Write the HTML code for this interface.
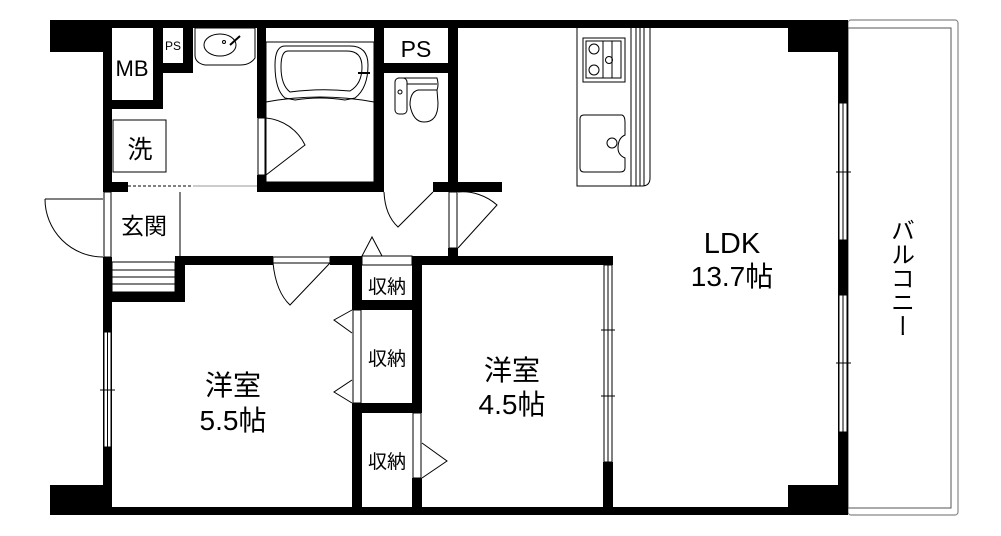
<!DOCTYPE html>
<html><head><meta charset="utf-8"><style>
html,body{margin:0;padding:0;background:#fff;}
svg{display:block}
text{font-family:"Liberation Sans","Noto Sans CJK JP",sans-serif;fill:#000}
</style></head><body>
<svg width="1001" height="536" viewBox="0 0 1001 536" xmlns="http://www.w3.org/2000/svg">
<rect width="1001" height="536" fill="#fff"/>
<rect x="848" y="20" width="110" height="495" rx="3" fill="none" stroke="#888" stroke-width="1.2"/>
<rect x="848" y="28" width="103" height="480" fill="none" stroke="#555" stroke-width="1"/>
<g fill="#000">
<rect x="50" y="20" width="798" height="8"/>
<rect x="50" y="507" width="798" height="8"/>
<rect x="50" y="20" width="53" height="32"/>
<rect x="50" y="485" width="62" height="30"/>
<rect x="788" y="20" width="60" height="32"/>
<rect x="788" y="485" width="60" height="30"/>
<rect x="838" y="20" width="10" height="495"/>
<rect x="103" y="20" width="9" height="172"/>
<rect x="103" y="257" width="9" height="258"/>
<rect x="153" y="28" width="10" height="81"/>
<rect x="103" y="100" width="60" height="9"/>
<rect x="163" y="63" width="30" height="10"/>
<rect x="183" y="28" width="10" height="45"/>
<rect x="103" y="182" width="25" height="10"/>
<rect x="257" y="28" width="9" height="90"/>
<rect x="257" y="175" width="9" height="17"/>
<rect x="257" y="182" width="127" height="10"/>
<rect x="374" y="28" width="10" height="164"/>
<rect x="433" y="182" width="69" height="10"/>
<rect x="448" y="28" width="10" height="164"/>
<rect x="384" y="63" width="64" height="10"/>
<rect x="448" y="248" width="10" height="17"/>
<rect x="175" y="257" width="10" height="45"/>
<rect x="103" y="292" width="82" height="10"/>
<rect x="175" y="256" width="98" height="9"/>
<rect x="330" y="256" width="32" height="9"/>
<rect x="412" y="256" width="201" height="9"/>
<rect x="352" y="256" width="10" height="54"/>
<rect x="352" y="403" width="10" height="112"/>
<rect x="412" y="256" width="10" height="157"/>
<rect x="412" y="478" width="10" height="37"/>
<rect x="352" y="300" width="70" height="10"/>
<rect x="352" y="403" width="70" height="10"/>
<rect x="603" y="256" width="10" height="9"/>
<rect x="603" y="462" width="10" height="53"/>
</g>
<g fill="none" stroke="#000" stroke-width="1">
<rect x="104" y="332" width="7" height="115" fill="#fff"/>
<line x1="107.5" y1="332" x2="107.5" y2="447"/>
<line x1="100" y1="390" x2="115" y2="390"/>
<rect x="839" y="103" width="8" height="137" fill="#fff"/>
<line x1="843" y1="103" x2="843" y2="240"/>
<line x1="836" y1="172" x2="851" y2="172"/>
<rect x="839" y="295" width="8" height="137" fill="#fff"/>
<line x1="843" y1="295" x2="843" y2="432"/>
<line x1="836" y1="363" x2="851" y2="363"/>
<rect x="604" y="265" width="8" height="197" fill="#fff"/>
<line x1="608" y1="265" x2="608" y2="462"/>
<line x1="601" y1="330" x2="615" y2="330"/>
<line x1="601" y1="396" x2="615" y2="396"/>
<!-- entry door -->
<rect x="104" y="192" width="7" height="65"/>
<line x1="45" y1="199" x2="103" y2="199"/>
<path d="M45 199 A58 58 0 0 0 103 257"/>
<line x1="180" y1="192" x2="180" y2="257"/>
<rect x="112" y="262" width="63" height="30"/>
<line x1="112" y1="270" x2="175" y2="270"/>
<line x1="112" y1="277" x2="175" y2="277"/>
<line x1="112" y1="284" x2="175" y2="284"/>
<line x1="128" y1="186" x2="193" y2="186" stroke-dasharray="3,2"/>
<line x1="193" y1="186" x2="257" y2="186" stroke="#999"/>
<rect x="113" y="120" width="53" height="52"/>
<path d="M195 28 L255 28 L255 58 Q250 65 240 65 L205 65 Q195 63 195 55 Z"/>
<ellipse cx="220" cy="45" rx="16" ry="11"/>
<circle cx="224" cy="42" r="1.5"/>
<line x1="230" y1="45" x2="240" y2="36" stroke-width="2"/>
<rect x="266" y="42" width="108" height="140" fill="none"/>
<path d="M285 46 L350 46 Q368 46 368 65 Q368 88 355 98 L345 100 Q320 96 295 100 L285 98 Q275 90 275 65 Q275 46 285 46 Z"/>
<path d="M288 51 L347 51 Q362 51 362 67 Q362 84 350 91 Q320 88 290 92 Q281 85 281 67 Q281 51 288 51 Z"/>
<path d="M266 102 Q320 92 374 102"/>
<line x1="358" y1="73" x2="370" y2="73" stroke-width="2"/>
<rect x="258" y="118" width="7" height="57"/>
<path d="M266 175 L305 145 A48 48 0 0 0 266 118"/>
<path d="M398 78 L437 78 Q439 85 437 90 L418 90 Q410 92 410 105 Q413 122 424 122 Q438 122 438 103 L437 90"/>
<rect x="395" y="78" width="12" height="36" rx="4"/>
<path d="M407 84 L437 84"/>
<circle cx="400" cy="92" r="2"/>
<path d="M384 192 Q385 215 398 227 L433 192"/>
<rect x="449" y="192" width="8" height="56"/>
<path d="M458 248 L497 205 A52 52 0 0 0 458 192"/>
<path d="M362 256 L372 237 L382 256"/>
<rect x="362" y="256" width="50" height="9"/>
<rect x="273" y="257" width="57" height="6"/>
<path d="M273 263 Q276 292 290 305 L330 263"/>
<rect x="353" y="310" width="8" height="93" fill="#fff"/>
<path d="M352 310 L334 320 L352 333"/>
<path d="M352 380 L334 392 L352 403"/>
<rect x="413" y="413" width="8" height="65" fill="#fff"/>
<path d="M422 443 L447 461 L422 478"/>
<path d="M577 28 L577 186 L642 186 Q650 186 650 178 L650 28"/>
<line x1="631" y1="28" x2="631" y2="186"/>
<line x1="636" y1="28" x2="636" y2="186"/>
<line x1="640" y1="28" x2="640" y2="186"/>
<line x1="644" y1="28" x2="644" y2="186"/>
<rect x="583" y="38" width="42" height="44"/>
<rect x="586" y="41" width="35" height="37"/>
<circle cx="594" cy="49" r="5"/>
<circle cx="594" cy="70" r="5"/>
<circle cx="609" cy="60" r="3.5"/>
<line x1="603" y1="41" x2="603" y2="78"/>
<line x1="612" y1="41" x2="612" y2="78"/>
<path d="M584 115 L622 115 Q625 116 625 122 L625 135 Q618 138 618 148 Q618 155 625 158 L625 168 Q625 172 620 172 L584 172 Q580 172 580 168 L580 119 Q580 115 584 115 Z"/>
<circle cx="612" cy="143" r="5"/>
</g>
<text x="132" y="76" font-size="22" text-anchor="middle">MB</text>
<text x="173" y="50" font-size="12" text-anchor="middle">PS</text>
<text x="416" y="57" font-size="23" text-anchor="middle">PS</text>
<text x="140" y="158" font-size="25" text-anchor="middle">洗</text>
<text x="144" y="234" font-size="23" text-anchor="middle">玄関</text>
<text x="387" y="293" font-size="19" text-anchor="middle">収納</text>
<text x="387" y="365" font-size="19" text-anchor="middle">収納</text>
<text x="387" y="468" font-size="19" text-anchor="middle">収納</text>
<text x="233" y="395" font-size="28" text-anchor="middle">洋室</text>
<text x="233" y="430" font-size="28" text-anchor="middle">5.5帖</text>
<text x="512" y="380" font-size="28" text-anchor="middle">洋室</text>
<text x="512" y="414" font-size="28" text-anchor="middle">4.5帖</text>
<text x="732" y="253" font-size="29" text-anchor="middle">LDK</text>
<text x="732" y="286" font-size="28" text-anchor="middle">13.7帖</text>
<text x="900" y="218" font-size="24" style="writing-mode:vertical-rl;text-orientation:upright">バルコニー</text>
</svg>
</body></html>
